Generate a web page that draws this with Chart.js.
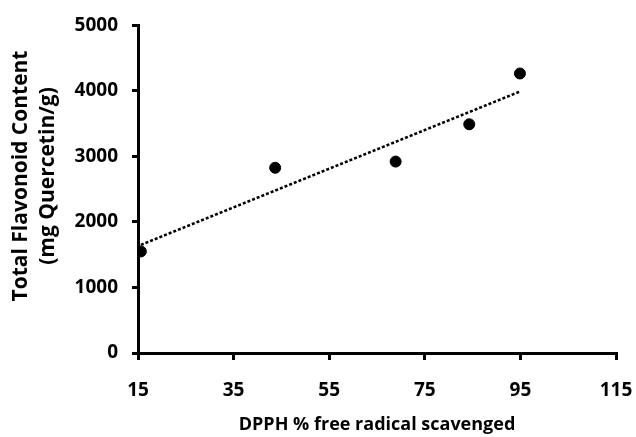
<!DOCTYPE html>
<html>
<head>
<meta charset="utf-8">
<script src="https://cdn.jsdelivr.net/npm/chart.js@4/dist/chart.umd.min.js"></script>
<style>
  html, body { margin: 0; padding: 0; background: #fff; }
  #wrap { width: 636px; height: 437px; }
</style>
</head>
<body>
<div id="wrap"><canvas id="chart" width="636" height="437"></canvas></div>
<script>
const dpphScavenged = [15.6, 43.7, 68.9, 84.3, 94.9]
const flavonoidContent = [1550, 2827, 2922, 3491, 4266]
const trendX = [15.6, 94.9]
const trendY = [1650, 3990]
const xTicks = [15, 35, 55, 75, 95, 115]
const yTicks = [0, 1000, 2000, 3000, 4000, 5000]
const yTitleLines = ['Total Flavonoid Content', '(mg Quercetin/g)']

const FONT = "'Open Sans', 'DejaVu Sans', sans-serif"

const points = dpphScavenged.map((x, i) => ({ x: x, y: flavonoidContent[i] }))
const trend = trendX.map((x, i) => ({ x: x, y: trendY[i] }))

// y title drawn by hand: the original sits a little above the axis centre
const yTitlePlugin = {
    id: 'yTitle',
    afterDraw(chart) {
        const ctx = chart.ctx
        ctx.save()
        ctx.translate(0, 176)
        ctx.rotate(-Math.PI / 2)
        ctx.fillStyle = '#000'
        ctx.font = 'bold 21px ' + FONT
        ctx.textAlign = 'center'
        ctx.textBaseline = 'middle'
        ctx.fillText(yTitleLines[0], 0, 21)
        ctx.fillText(yTitleLines[1], 0, 48)
        ctx.restore()
    },
}

new Chart(document.getElementById('chart'), {
    type: 'scatter',
    data: {
        datasets: [
            {
                type: 'line',
                data: trend,
                borderColor: '#000',
                borderWidth: 2.5,
                borderDash: [3, 2],
                pointRadius: 0,
                fill: false,
                order: 2,
            },
            {
                data: points,
                backgroundColor: '#000',
                borderColor: '#000',
                pointRadius: 5.5,
                order: 1,
            },
        ],
    },
    options: {
        responsive: false,
        animation: false,
        layout: { padding: { top: 14, right: 20, bottom: 0, left: 0 } },
        plugins: { legend: { display: false }, tooltip: { enabled: false } },
        scales: {
            x: {
                type: 'linear',
                min: 15,
                max: 115,
                afterBuildTicks: scale => { scale.ticks = xTicks.map(v => ({ value: v })) },
                afterFit: scale => {
                    scale.height = 84
                    scale.paddingLeft = 0
                    scale.paddingRight = 0
                },
                border: { color: '#000', width: 3 },
                grid: { drawOnChartArea: false, drawTicks: true, tickLength: 7, color: '#000', lineWidth: 3 },
                ticks: {
                    color: '#000', padding: 19,
                    font: { family: FONT, size: 19, weight: 'bold' },
                    callback: v => String(v),
                },
                title: {
                    display: true,
                    text: 'DPPH % free radical scavenged',
                    color: '#000',
                    padding: { top: 16, bottom: 1 },
                    font: { family: FONT, size: 18, weight: 'bold' },
                },
            },
            y: {
                type: 'linear',
                min: 0,
                max: 5000,
                afterBuildTicks: scale => { scale.ticks = yTicks.map(v => ({ value: v })) },
                afterFit: scale => { scale.width = 138 },
                border: { color: '#000', width: 3 },
                grid: { drawOnChartArea: false, drawTicks: true, tickLength: 6, color: '#000', lineWidth: 3 },
                ticks: {
                    color: '#000', padding: 14,
                    font: { family: FONT, size: 19, weight: 'bold' },
                    callback: v => String(v),
                },
            },
        },
    },
    plugins: [yTitlePlugin],
})
</script>
</body>
</html>
